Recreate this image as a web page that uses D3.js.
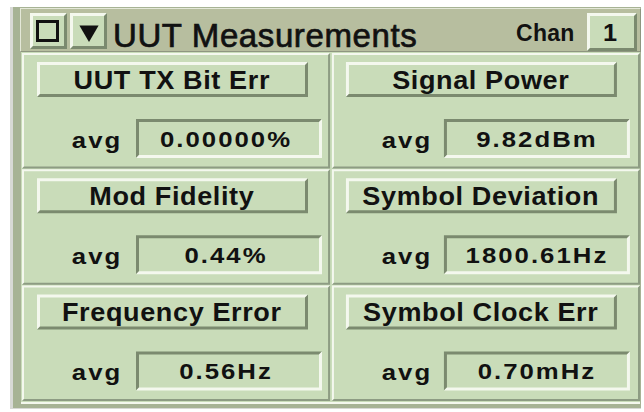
<!DOCTYPE html>
<html><head><meta charset="utf-8">
<script src="https://cdn.jsdelivr.net/npm/d3@7"></script>
<style>
html,body{margin:0;padding:0;background:#fff;}
svg{display:block;}
text{font-family:"Liberation Sans",Arial,Helvetica,sans-serif;fill:#111;}
</style></head>
<body>
<svg id="c" width="644" height="412"></svg>
<script>
// ---- data ----
const titleText = "UUT Measurements";
const chanLabel = "Chan";
const chanValue = "1";
const measureNames = ["UUT TX Bit Err", "Signal Power", "Mod Fidelity", "Symbol Deviation", "Frequency Error", "Symbol Clock Err"];
const statLabel = "avg";
const avgValues = [0.00000, 9.82, 0.44, 1800.61, 0.56, 0.70];
const avgDecimals = [5, 2, 2, 2, 2, 2];
const avgUnits = ["%", "dBm", "%", "Hz", "Hz", "mHz"];

// ---- colours ----
const PANEL = "#c9dcb9", TITLE = "#b7be9f", LIGHT = "#f4f8ee", DARK = "#7b8a6f", DARK2 = "#8d9c83";

const svg = d3.select("#c");

function bevel(g, x, y, w, h, t, tl, br, face) {
  if (face) g.append("rect").attr("x", x).attr("y", y).attr("width", w).attr("height", h).attr("fill", face);
  g.append("polygon").attr("fill", tl).attr("points",
    [[x, y], [x + w, y], [x + w - t, y + t], [x + t, y + t], [x + t, y + h - t], [x, y + h]].join(" "));
  g.append("polygon").attr("fill", br).attr("points",
    [[x + w, y], [x + w, y + h], [x, y + h], [x + t, y + h - t], [x + w - t, y + h - t], [x + w - t, y + t]].join(" "));
}

// centred, horizontally widened text (mimics the wide bitmap Helvetica)
function wideText(g, x, y, str, size, sx, ls) {
  return g.append("text")
    .attr("transform", `translate(${x + ls * sx / 2},${y}) scale(${sx},1)`)
    .attr("text-anchor", "middle").attr("font-size", size).attr("font-weight", "bold")
    .attr("letter-spacing", ls).text(str);
}

// outer frame
svg.append("rect").attr("x", 10).attr("y", 7).attr("width", 631).attr("height", 402).attr("fill", "#d8d9d6");
svg.append("rect").attr("x", 13).attr("y", 7).attr("width", 628).attr("height", 401).attr("fill", "#a7b395");
svg.append("rect").attr("x", 21).attr("y", 52).attr("width", 619).attr("height", 352).attr("fill", PANEL);
svg.append("rect").attr("x", 21).attr("y", 402).attr("width", 619).attr("height", 2).attr("fill", LIGHT);

// title bar
const tb = svg.append("g");
bevel(tb, 20, 8, 621, 44, 1, "#e4e8d8", "#8e9680", TITLE);

// checkbox button
bevel(tb, 30, 13, 37, 36, 3, LIGHT, DARK, PANEL);
tb.append("rect").attr("x", 37.5).attr("y", 21.5).attr("width", 20).attr("height", 19)
  .attr("fill", "none").attr("stroke", "#111").attr("stroke-width", 3);
// menu (triangle) button
bevel(tb, 70, 13, 37, 36, 3, LIGHT, DARK, PANEL);
tb.append("path").attr("d", d3.symbol().type(d3.symbolTriangle).size(160)())
  .attr("transform", "translate(89,31) rotate(180)").attr("fill", "#111");

tb.append("text").attr("x", 113).attr("y", 46.5).attr("font-size", 33).attr("font-weight", "normal")
  .attr("stroke", "#111").attr("stroke-width", 0.7).attr("letter-spacing", 0.6).text(titleText);
tb.append("text").attr("x", 516).attr("y", 41).attr("font-size", 23).attr("font-weight", "bold")
  .attr("letter-spacing", 0.3).text(chanLabel);
bevel(tb, 587, 13, 50, 38, 3, LIGHT, DARK, PANEL);
wideText(tb, 610, 41, chanValue, 23, 1.1, 0);

// cell grid
const cols = d3.scaleBand().domain([0, 1]).range([22, 640]).paddingInner(0.006);
const rows = d3.scaleBand().domain([0, 1, 2]).range([53, 401]).paddingInner(0.006);

const fmt = (v, i) => v.toFixed(avgDecimals[i]) + avgUnits[i];

measureNames.forEach((name, i) => {
  const col = i % 2;
  const cx = cols(col), cy = rows(Math.floor(i / 2));
  const cw = cols.bandwidth(), ch = rows.bandwidth();
  const g = svg.append("g");
  bevel(g, cx, cy, cw, ch, 2, LIGHT, DARK2, PANEL);

  // title button
  const bx = cx + 15 - col, by = cy + 9, bw = 271, bh = 35;
  bevel(g, bx, by, bw, bh, 3, LIGHT, DARK, PANEL);
  wideText(g, bx + bw / 2 - 1, by + bh / 2 + 9.5, name, 26, 1.04, 0.6);

  // stat label
  wideText(g, cx + 74, cy + 66 + 20 + 8.5, statLabel, 23, 1.12, 1.8);

  // value box (sunken)
  const vx = cx + 114 - 2 * col, vy = cy + 66, vw = 186, vh = 39;
  bevel(g, vx, vy, vw, vh, 3, DARK, LIGHT, PANEL);
  wideText(g, vx + vw / 2 - (col ? 1 : 4), vy + vh / 2 + 8.5, fmt(avgValues[i], i), 23, 1.12, 1.8);
});
</script>
</body></html>
